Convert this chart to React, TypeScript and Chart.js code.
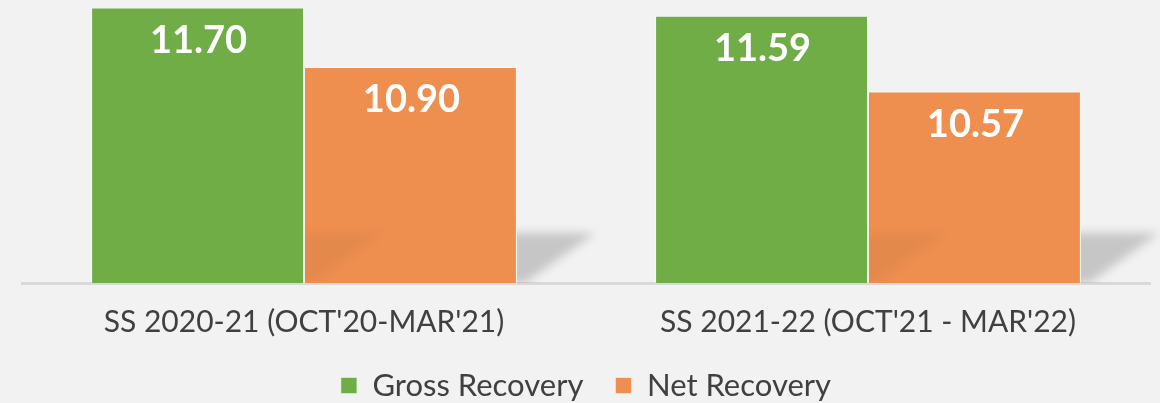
import React, { useEffect, useRef } from "react";
import { Chart, registerables } from "chart.js";

Chart.register(...registerables);

const categories = ["SS 2020-21 (OCT'20-MAR'21)", "SS 2021-22 (OCT'21 - MAR'22)"];
const grossRecovery = [11.7, 11.59];
const netRecovery = [10.9, 10.57];
const seriesNames = ["Gross Recovery", "Net Recovery"];

const GREEN = "#70AD47";
const ORANGE = "#EE8F50";
const FONT = "Lato";
const AXIS_FONT_SIZE = 30;
const LEGEND_FONT_SIZE = 31;
const LEGEND_PAD = 32;

const shadowPlugin = {
  id: "barShadow",
  afterDatasetsDraw(chart: any) {
    const ctx = chart.ctx;
    const bottom = chart.chartArea.bottom;
    chart.data.datasets.forEach((ds: any, di: number) => {
      const meta = chart.getDatasetMeta(di);
      meta.data.forEach((bar: any) => {
        const half = bar.width / 2;
        const left = bar.x - half;
        const right = bar.x + half;
        const h = 50;
        const dx = 78;
        ctx.save();
        ctx.beginPath();
        ctx.rect(right, 0, chart.width, bottom);
        ctx.clip();
        ctx.filter = "blur(5px)";
        ctx.fillStyle = di === 0 ? "rgba(0,0,0,0.04)" : "rgba(0,0,0,0.18)";
        ctx.beginPath();
        ctx.moveTo(left + 8, bottom);
        ctx.lineTo(right + 8, bottom);
        ctx.lineTo(right + dx, bottom - h);
        ctx.lineTo(left + dx, bottom - h);
        ctx.closePath();
        ctx.fill();
        ctx.restore();
      });
    });
  },
};

const valueLabelPlugin = {
  id: "valueLabels",
  afterDatasetsDraw(chart: any) {
    const ctx = chart.ctx;
    ctx.save();
    ctx.fillStyle = "#FFFFFF";
    ctx.font = `bold 38px ${FONT}`;
    ctx.textAlign = "center";
    ctx.textBaseline = "middle";
    chart.data.datasets.forEach((ds: any, di: number) => {
      const meta = chart.getDatasetMeta(di);
      meta.data.forEach((bar: any, i: number) => {
        const v = ds.data[i] as number;
        ctx.fillText(v.toFixed(2), bar.x + 1, bar.y + 33);
      });
    });
    ctx.restore();
  },
};

export default function App() {
  const ref = useRef<HTMLCanvasElement>(null);
  useEffect(() => {
    document.body.style.margin = "0";
    if (!ref.current) return;
    const chart = new Chart(ref.current, {
      type: "bar",
      data: {
        labels: categories,
        datasets: [
          {
            label: seriesNames[0],
            data: grossRecovery,
            backgroundColor: GREEN,
            borderColor: "rgba(255,255,255,0.45)",
            borderWidth: 1,
          },
          {
            label: seriesNames[1],
            data: netRecovery,
            backgroundColor: ORANGE,
            borderColor: "rgba(255,255,255,0.45)",
            borderWidth: 1,
          },
        ],
      },
      options: {
        animation: false,
        responsive: true,
        maintainAspectRatio: false,
        layout: { padding: { left: 22, right: 10, top: 0, bottom: -8 } },
        datasets: { bar: { barPercentage: 1, categoryPercentage: 0.755 } },
        scales: {
          y: { display: false, min: 8, max: 11.8 },
          x: {
            grid: { display: false, drawTicks: false },
            border: { display: true, color: "#D9D9D9", width: 3 },
            ticks: {
              color: "#404040",
              padding: 24,
              font: { family: FONT, size: AXIS_FONT_SIZE, lineHeight: 1 },
            },
            afterFit: (scale: any) => {
              scale.height = 55;
            },
          },
        },
        plugins: {
          tooltip: { enabled: false },
          legend: {
            position: "bottom",
            labels: {
              color: "#404040",
              boxWidth: 16,
              boxHeight: 16,
              padding: LEGEND_PAD,
              font: { family: FONT, size: LEGEND_FONT_SIZE },
            },
          },
        },
      },
      plugins: [shadowPlugin, valueLabelPlugin],
    });
    return () => chart.destroy();
  }, []);
  return (
    <div style={{ width: 1160, height: 403, background: "#F2F2F2", position: "relative" }}>
      <canvas ref={ref} />
    </div>
  );
}
